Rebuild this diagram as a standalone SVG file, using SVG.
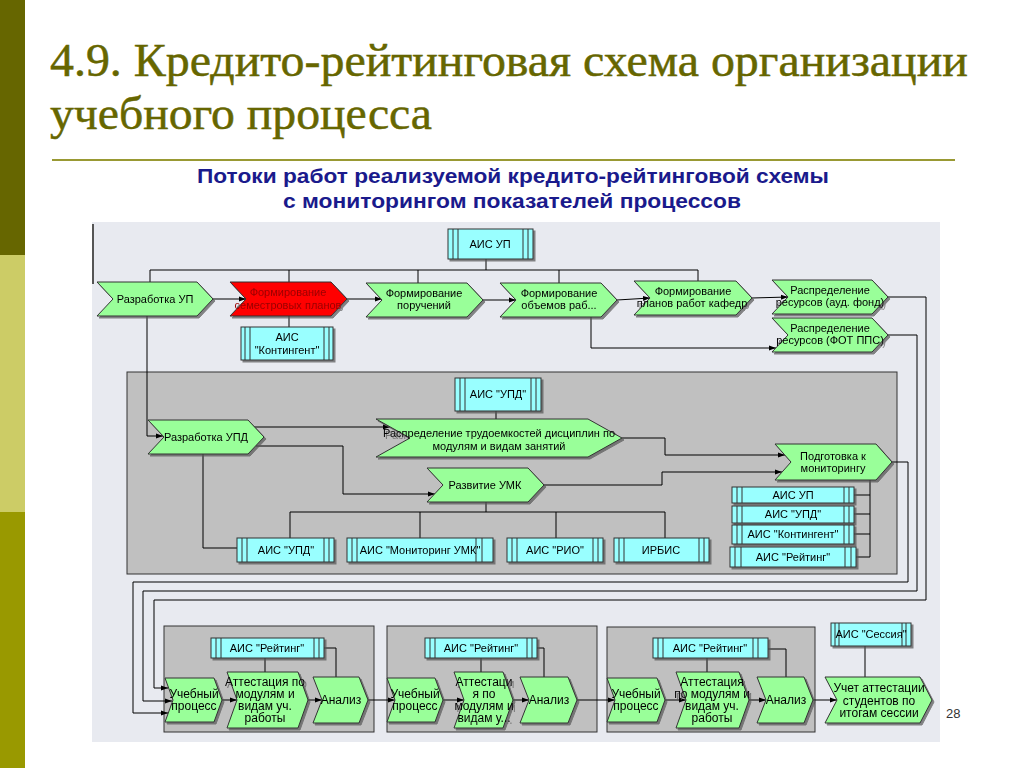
<svg xmlns="http://www.w3.org/2000/svg" width="1024" height="768" viewBox="0 0 1024 768">
<defs>
<style>
.g{fill:#99ff99;stroke:#333;stroke-width:1}
.r{fill:#ff0000;stroke:#333;stroke-width:1}
.c{fill:#99ffff;stroke:#333;stroke-width:1}
.v{stroke:#333;stroke-width:1;fill:none}
.gb{fill:#c0c0c0;stroke:#333;stroke-width:1}
.ln{fill:none;stroke:#000;stroke-width:1}
.ar{fill:none;stroke:#000;stroke-width:1;marker-end:url(#ah)}
.t{font-family:"Liberation Sans",Arial,sans-serif;font-size:11px;fill:#000;text-anchor:middle}
.tb{font-family:"Liberation Sans",Arial,sans-serif;font-size:12px;fill:#000;text-anchor:middle}
.tr{font-family:"Liberation Sans",Arial,sans-serif;font-size:11px;fill:#990000;text-anchor:middle}
.ttl{font-family:"Liberation Serif","Times New Roman",serif;font-size:47px;fill:#666600;stroke:#666600;stroke-width:0.5}
.sub{font-family:"Liberation Sans Narrow","Liberation Sans",Arial,sans-serif;font-weight:bold;font-size:20px;fill:#1a1a8c}
.sh{filter:url(#ds)}
</style>
<filter id="ds" x="-10%" y="-10%" width="130%" height="140%">
<feDropShadow dx="2" dy="2" stdDeviation="0.7" flood-color="#555" flood-opacity="0.7"/>
</filter>
<marker id="ah" markerWidth="7" markerHeight="6" refX="7" refY="3" orient="auto" markerUnits="userSpaceOnUse">
<path d="M0,0.5 L7,3 L0,5.5 Z" fill="#000"/>
</marker>
</defs>

<rect width="1024" height="768" fill="#fff"/>
<rect x="0" y="0" width="25" height="255" fill="#666600"/>
<rect x="0" y="255" width="25" height="257" fill="#cccc66"/>
<rect x="0" y="512" width="25" height="256" fill="#999900"/>

<text class="ttl" x="50" y="76" textLength="918" lengthAdjust="spacingAndGlyphs">4.9. Кредито-рейтинговая схема организации</text>
<text class="ttl" x="50" y="129" textLength="382" lengthAdjust="spacingAndGlyphs">учебного процесса</text>
<line x1="52" y1="160" x2="955" y2="160" stroke="#999933" stroke-width="2"/>
<text class="sub" x="197" y="183" textLength="632" lengthAdjust="spacingAndGlyphs">Потоки работ реализуемой кредито-рейтинговой схемы</text>
<text class="sub" x="283" y="208" textLength="458" lengthAdjust="spacingAndGlyphs">с мониторингом показателей процессов</text>

<rect x="92" y="222" width="848" height="520" fill="#e8eaf0"/>
<line x1="93" y1="224" x2="93" y2="284" stroke="#555" stroke-width="2"/>

<g id="box-mid"><rect class="gb" x="127" y="372" width="770" height="202"/></g>
<g id="box-b1"><rect class="gb" x="164" y="626" width="210" height="106"/></g>
<g id="box-b2"><rect class="gb" x="387" y="626" width="210" height="106"/></g>
<g id="box-b3"><rect class="gb" x="607" y="627" width="208" height="105"/></g>

<g id="connectors">
<path class="ln" d="M486,259 V270 M150,270 H698 M150,270 V282 M289,270 V282 M418,270 V283 M559,270 V283 M698,270 V281"/>
<path class="ar" d="M213,299 H246"/>
<path class="ar" d="M347,299 H382"/>
<path class="ar" d="M483,300 H516"/>
<path class="ar" d="M617,300 L650,298"/>
<path class="ar" d="M752,298 L788,297"/>
<path class="ln" d="M289,316 V327"/>
<path class="ar" d="M591,317 V348 H776"/>
<path class="ar" d="M147,316 V436 H163"/>
<path class="ar" d="M888,297 H926 V600 H154 V688 H168"/>
<path class="ar" d="M888,335 H917 V591 H143 V701 H172"/>
<path class="ar" d="M892,462 H908 V582 H133 V713 H168"/>
<path class="ln" d="M496,411 V419"/>
<path class="ar" d="M254,427 H390"/>
<path class="ar" d="M256,446 H343 V494 H435"/>
<path class="ln" d="M203,454 V548 H237"/>
<path class="ln" d="M486,502 V512 M290,512 H665 M290,512 V538 M420,512 V538 M556,512 V538 M665,512 V538"/>
<path class="ar" d="M622,438 H665 V455 H785"/>
<path class="ar" d="M544,485 H662 V472 H782"/>
<path class="ln" d="M870,480 V557 M854,495 H870 M854,514 H870 M854,534 H870 M856,557 H870"/>
<path class="ar" d="M222,700 H237"/>
<path class="ar" d="M308,700 H322"/>
<path class="ar" d="M368,700 H395"/>
<path class="ar" d="M443,700 H464"/>
<path class="ar" d="M513,700 H529"/>
<path class="ar" d="M577,700 H615"/>
<path class="ar" d="M665,700 H686"/>
<path class="ar" d="M749,700 H766"/>
<path class="ar" d="M813,700 H837"/>
<path class="ln" d="M265,658 V672 M324,648 H336 V677"/>
<path class="ln" d="M481,658 V672 M537,648 H544 V677"/>
<path class="ln" d="M707,658 V672 M768,649 H786 V677"/>
<path class="ln" d="M865,646 V677"/>
</g>

<g id="ais-up-top" class="sh"><rect class="c" x="448" y="229" width="85" height="30"/><path class="v" d="M453,229 V259 M458,229 V259 M523,229 V259 M528,229 V259"/><text class="t" x="490" y="248">АИС УП</text></g>
<g id="razrabotka-up" class="sh"><path class="g" d="M97,282 H197 L213,299 L197,316 H97 L113,299 Z"/><text class="t" x="155" y="303">Разработка УП</text></g>
<g id="form-sem" class="sh"><path class="r" d="M230,282 H331 L347,299 L331,316 H230 L246,299 Z"/><text class="tr" x="288" y="296">Формирование</text><text class="tr" x="288" y="309">семестровых планов</text></g>
<g id="form-poruch" class="sh"><path class="g" d="M366,283 H467 L483,300 L467,317 H366 L382,300 Z"/><text class="t" x="424" y="297">Формирование</text><text class="t" x="424" y="309">поручений</text></g>
<g id="form-obem" class="sh"><path class="g" d="M500,283 H601 L617,300 L601,317 H500 L516,300 Z"/><text class="t" x="559" y="297">Формирование</text><text class="t" x="559" y="309">объемов раб...</text></g>
<g id="form-planov" class="sh"><path class="g" d="M634,281 H736 L752,298 L736,315 H634 L650,298 Z"/><text class="t" x="693" y="295">Формирование</text><text class="t" x="692" y="307">планов работ кафедр</text></g>
<g id="raspr-aud" class="sh"><path class="g" d="M772,280 H872 L888,297 L872,314 H772 L788,297 Z"/><text class="t" x="830" y="294">Распределение</text><text class="t" x="830" y="306">ресурсов  (ауд. фонд)</text></g>
<g id="raspr-fot" class="sh"><path class="g" d="M772,318 H872 L888,335 L872,352 H772 L788,335 Z"/><text class="t" x="830" y="332">Распределение</text><text class="t" x="830" y="344">ресурсов (ФОТ ППС)</text></g>
<g id="ais-kont-top" class="sh"><rect class="c" x="241" y="327" width="92" height="33"/><path class="v" d="M245,327 V360 M250,327 V360 M324,327 V360 M329,327 V360"/><text class="t" x="287" y="341">АИС</text><text class="t" x="287" y="354">"Контингент"</text></g>

<g id="ais-upd-mid" class="sh"><rect class="c" x="455" y="378" width="86" height="33"/><path class="v" d="M460,378 V411 M465,378 V411 M531,378 V411 M536,378 V411"/><text class="t" x="498" y="398">АИС "УПД"</text></g>
<g id="razrabotka-upd" class="sh"><path class="g" d="M148,420 H248 L264,437 L248,454 H148 L164,437 Z"/><text class="t" x="206" y="441">Разработка УПД</text></g>
<g id="raspr-trud" class="sh"><path class="g" d="M376,419 H588 L622,438 L588,457 H376 L410,438 Z"/><text class="t" x="499" y="437">Распределение трудоемкостей дисциплин по</text><text class="t" x="499" y="450">модулям и видам занятий</text></g>
<g id="razvitie-umk" class="sh"><path class="g" d="M427,468 H528 L544,485 L528,502 H427 L443,485 Z"/><text class="t" x="485" y="489">Развитие УМК</text></g>
<g id="podgotovka" class="sh"><path class="g" d="M775,444 H876 L892,462 L876,480 H775 L791,462 Z"/><text class="t" x="833" y="460">Подготовка к</text><text class="t" x="833" y="472">мониторингу</text></g>
<g id="s-ais-up" class="sh"><rect class="c" x="732" y="487" width="122" height="16"/><path class="v" d="M737,487 V503 M742,487 V503 M844,487 V503 M849,487 V503"/><text class="t" x="793" y="499">АИС УП</text></g>
<g id="s-ais-upd" class="sh"><rect class="c" x="732" y="506" width="122" height="17"/><path class="v" d="M737,506 V523 M742,506 V523 M844,506 V523 M849,506 V523"/><text class="t" x="793" y="518">АИС "УПД"</text></g>
<g id="s-ais-kont" class="sh"><rect class="c" x="732" y="525" width="122" height="19"/><path class="v" d="M737,525 V544 M742,525 V544 M844,525 V544 M849,525 V544"/><text class="t" x="793" y="538">АИС "Контингент"</text></g>
<g id="s-ais-rating" class="sh"><rect class="c" x="730" y="547" width="126" height="20"/><path class="v" d="M735,547 V567 M741,547 V567 M845,547 V567 M851,547 V567"/><text class="t" x="793" y="561">АИС "Рейтинг"</text></g>
<g id="b-ais-upd" class="sh"><rect class="c" x="237" y="538" width="97" height="24"/><path class="v" d="M242,538 V562 M247,538 V562 M324,538 V562 M329,538 V562"/><text class="t" x="286" y="554">АИС "УПД"</text></g>
<g id="b-ais-mon" class="sh"><rect class="c" x="347" y="538" width="146" height="24"/><path class="v" d="M352,538 V562 M357,538 V562 M476,538 V562 M482,538 V562"/><text class="t" x="420" y="554">АИС "Мониторинг УМК"</text></g>
<g id="b-ais-rio" class="sh"><rect class="c" x="507" y="538" width="96" height="24"/><path class="v" d="M512,538 V562 M517,538 V562 M593,538 V562 M598,538 V562"/><text class="t" x="555" y="554">АИС "РИО"</text></g>
<g id="b-irbis" class="sh"><rect class="c" x="614" y="538" width="95" height="24"/><path class="v" d="M619,538 V562 M624,538 V562 M699,538 V562 M704,538 V562"/><text class="t" x="661" y="554">ИРБИС</text></g>

<g id="rating1" class="sh"><rect class="c" x="211" y="638" width="113" height="20"/><path class="v" d="M216,638 V658 M221,638 V658 M314,638 V658 M319,638 V658"/><text class="t" x="267" y="652">АИС "Рейтинг"</text></g>
<g id="uch1" class="sh"><path class="g" d="M165,678 H214 L222,700 L214,722 H165 L173,700 Z"/><text class="tb" x="194" y="698">Учебный</text><text class="tb" x="194" y="710">процесс</text></g>
<g id="att1" class="sh"><path class="g" d="M227,672 H298 L308,700 L298,728 H227 L237,700 Z"/><text class="tb" x="265" y="686">Аттестация по</text><text class="tb" x="265" y="698">модулям и</text><text class="tb" x="265" y="710">видам уч.</text><text class="tb" x="265" y="722">работы</text></g>
<g id="an1" class="sh"><path class="g" d="M313,677 H359 L368,700 L359,723 H313 L322,700 Z"/><text class="tb" x="341" y="704">Анализ</text></g>

<g id="rating2" class="sh"><rect class="c" x="425" y="638" width="112" height="20"/><path class="v" d="M430,638 V658 M435,638 V658 M527,638 V658 M532,638 V658"/><text class="t" x="481" y="652">АИС "Рейтинг"</text></g>
<g id="uch2" class="sh"><path class="g" d="M387,678 H435 L443,700 L435,722 H387 L395,700 Z"/><text class="tb" x="415" y="698">Учебный</text><text class="tb" x="415" y="710">процесс</text></g>
<g id="att2" class="sh"><path class="g" d="M454,672 H503 L513,700 L503,728 H454 L464,700 Z"/><text class="tb" x="484" y="686">Аттестаци</text><text class="tb" x="484" y="698">я по</text><text class="tb" x="484" y="710">модулям и</text><text class="tb" x="484" y="722">видам у...</text></g>
<g id="an2" class="sh"><path class="g" d="M520,677 H568 L577,700 L568,723 H520 L529,700 Z"/><text class="tb" x="549" y="704">Анализ</text></g>

<g id="rating3" class="sh"><rect class="c" x="653" y="638" width="115" height="20"/><path class="v" d="M658,638 V658 M663,638 V658 M753,638 V658 M758,638 V658"/><text class="t" x="710" y="652">АИС "Рейтинг"</text></g>
<g id="uch3" class="sh"><path class="g" d="M607,678 H657 L665,700 L657,722 H607 L615,700 Z"/><text class="tb" x="636" y="698">Учебный</text><text class="tb" x="636" y="710">процесс</text></g>
<g id="att3" class="sh"><path class="g" d="M676,672 H739 L749,700 L739,728 H676 L686,700 Z"/><text class="tb" x="712" y="686">Аттестация</text><text class="tb" x="712" y="698">по модулям и</text><text class="tb" x="712" y="710">видам уч.</text><text class="tb" x="712" y="722">работы</text></g>
<g id="an3" class="sh"><path class="g" d="M757,677 H804 L813,700 L804,723 H757 L766,700 Z"/><text class="tb" x="786" y="704">Анализ</text></g>

<g id="ais-sessiya" class="sh"><rect class="c" x="831" y="623" width="80" height="23"/><path class="v" d="M835,623 V646 M839,623 V646 M902,623 V646 M906,623 V646"/><text class="t" x="871" y="638">АИС "Сессия"</text></g>
<g id="uchet" class="sh"><path class="g" d="M825,677 H920 L932,700 L920,723 H825 L837,700 Z"/><text class="tb" x="879" y="692">Учет аттестации</text><text class="tb" x="879" y="705">студентов по</text><text class="tb" x="879" y="717">итогам сессии</text></g>

<text x="946" y="718" font-family="Liberation Sans,Arial,sans-serif" font-size="13" fill="#333">28</text>
</svg>
